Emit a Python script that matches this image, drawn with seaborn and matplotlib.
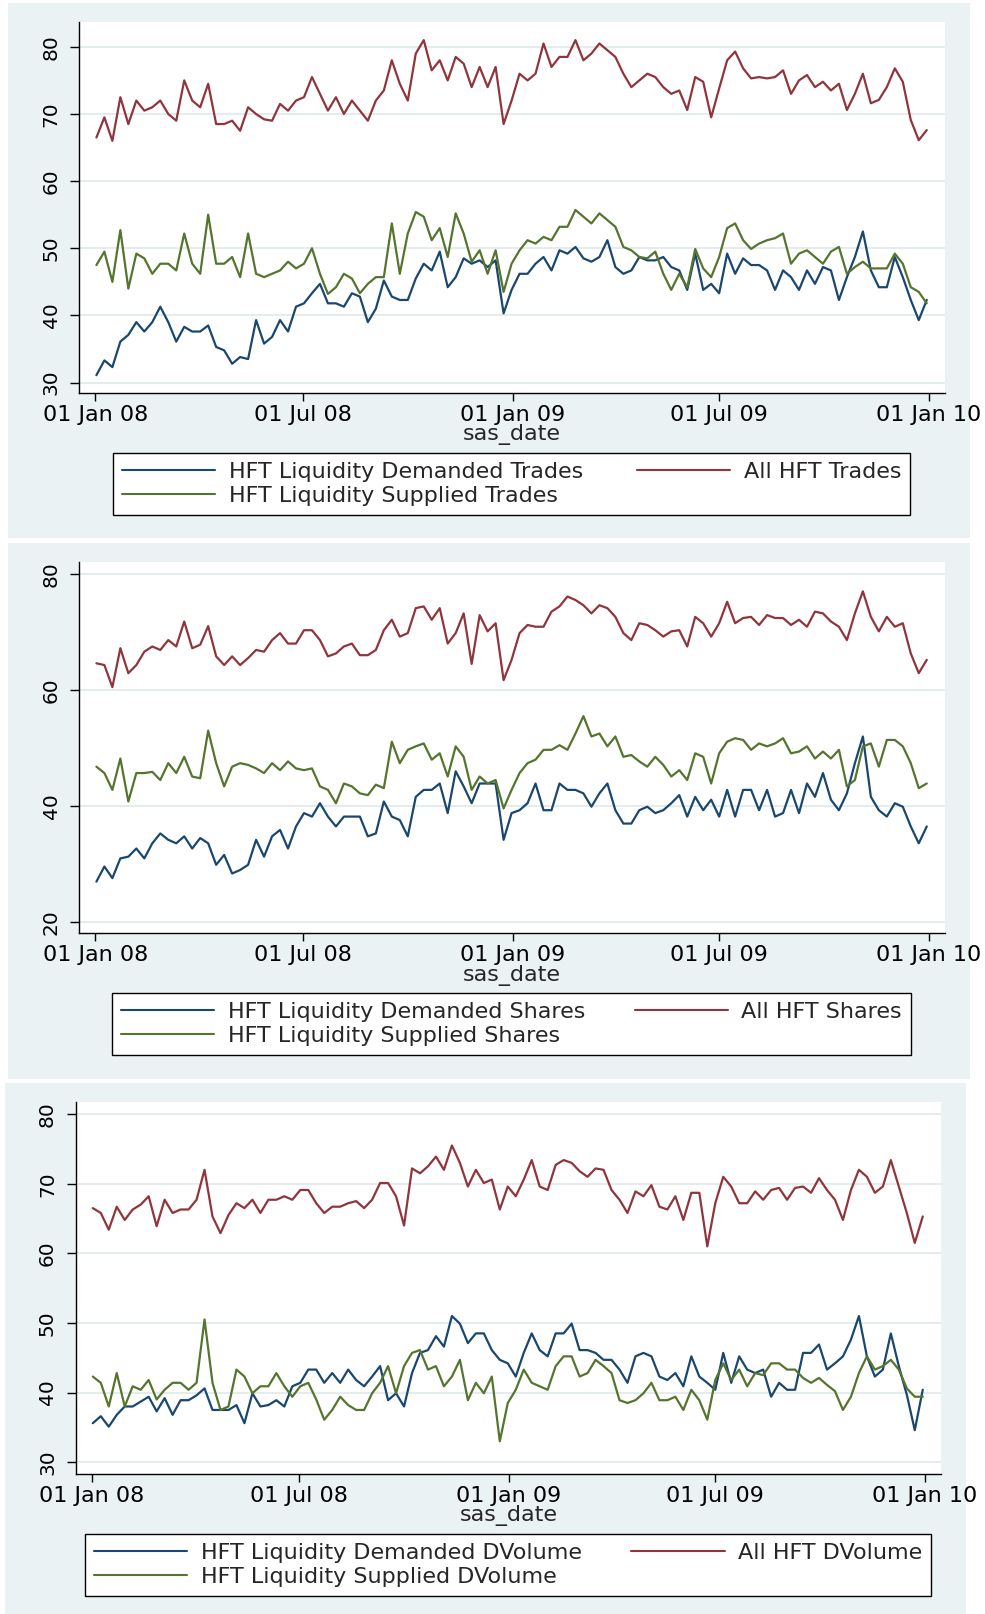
import numpy as np
import pandas as pd
import matplotlib
matplotlib.use("Agg")
import matplotlib.pyplot as plt
import matplotlib.dates as mdates
import seaborn as sns
from matplotlib.patches import Rectangle
from matplotlib.lines import Line2D

sns.set_style("white")
plt.rcParams["font.family"] = ["DejaVu Sans"]

# ---------------- data (weekly readings, 2008-01-02 .. 2009-12-30) ----------------
dates = pd.date_range("2008-01-02", periods=105, freq="7D")

trades_all = [66.5, 69.5, 66, 72.5, 68.5, 72, 70.5, 71, 72, 70,
              69, 75, 72, 71, 74.5, 68.5, 68.5, 69, 67.5, 71,
              70, 69.2, 69, 71.5, 70.5, 72, 72.5, 75.5, 73, 70.5,
              72.5, 70, 72, 70.5, 69, 72, 73.5, 78, 74.5, 72,
              79, 81, 76.5, 78, 75, 78.5, 77.5, 74, 77, 74,
              77, 68.5, 72, 76, 75, 76, 80.5, 77, 78.5, 78.5,
              81, 78, 79, 80.5, 79.5, 78.5, 76, 74, 75, 76,
              75.5, 74, 73, 73.5, 70.6, 75.5, 74.8, 69.5, 73.8, 78,
              79.3, 76.8, 75.3, 75.5, 75.3, 75.5, 76.5, 73, 75, 75.8,
              74, 74.8, 73.5, 74.5, 70.6, 73, 76, 71.6, 72.1, 74,
              76.8, 74.8, 69.1, 66.1, 67.6]
trades_supplied = [47.5, 49.5, 45, 52.7, 44, 49.2, 48.5, 46.2, 47.7, 47.7,
                   46.7, 52.2, 47.7, 46.2, 55, 47.7, 47.7, 48.7, 45.7, 52.2,
                   46.2, 45.7, 46.2, 46.7, 48, 47, 47.7, 50, 46.2, 43.2,
                   44.2, 46.2, 45.5, 43.3, 44.7, 45.7, 45.7, 53.7, 46.2, 52.2,
                   55.4, 54.7, 51.2, 53, 48.7, 55.2, 52.2, 48, 49.7, 46.2,
                   49.7, 43.5, 47.7, 49.7, 51.2, 50.7, 51.7, 51.2, 53.2, 53.2,
                   55.7, 54.7, 53.7, 55.2, 54.2, 53.2, 50.2, 49.7, 48.7, 48.5,
                   49.5, 46.2, 43.8, 46.2, 44.2, 49.9, 47, 45.7, 48.7, 53,
                   53.7, 51.2, 49.9, 50.7, 51.2, 51.5, 52.2, 47.7, 49.2, 49.7,
                   48.7, 47.7, 49.5, 50.2, 46.2, 47.2, 48, 47, 47, 47,
                   49.2, 47.7, 44.2, 43.5, 41.8]
trades_demanded = [31.1, 33.3, 32.3, 36.1, 37.1, 39.0, 37.6, 39.0, 41.3, 39.0,
                   36.1, 38.3, 37.6, 37.6, 38.5, 35.3, 34.8, 32.8, 33.8, 33.5,
                   39.3, 35.8, 36.8, 39.3, 37.6, 41.3, 41.8, 43.3, 44.7, 41.8,
                   41.8, 41.3, 43.3, 42.8, 39.0, 41.0, 45.2, 42.8, 42.3, 42.3,
                   45.5, 47.7, 46.7, 49.5, 44.2, 45.7, 48.5, 47.7, 48.2, 47.2,
                   48.2, 40.3, 43.8, 46.2, 46.2, 47.7, 48.7, 46.7, 49.7, 49.2,
                   50.2, 48.5, 48, 48.7, 51.2, 47.2, 46.2, 46.7, 48.7, 48.2,
                   48.2, 48.7, 47.2, 46.7, 43.8, 49.2, 43.8, 44.7, 43.3, 49.2,
                   46.2, 48.5, 47.5, 47.5, 46.7, 43.8, 46.7, 45.7, 43.8, 46.7,
                   44.7, 47.2, 46.7, 42.3, 45.7, 48.7, 52.5, 46.7, 44.2, 44.2,
                   48.7, 45.7, 42.3, 39.3, 42.3]

shares_all = [64.6, 64.3, 60.5, 67.2, 62.9, 64.3, 66.6, 67.5, 66.9, 68.6,
              67.5, 71.8, 67.2, 67.8, 71, 65.8, 64.3, 65.8, 64.3, 65.5,
              66.9, 66.6, 68.6, 69.8, 68.0, 68.0, 70.3, 70.3, 68.6, 65.8,
              66.3, 67.5, 68.0, 66.0, 66.0, 66.9, 70.3, 72.1, 69.2, 69.8,
              74.1, 74.4, 72.1, 74.1, 68.0, 69.8, 73.2, 64.5, 72.9, 70.1,
              71.5, 61.7, 65.2, 69.8, 71.2, 70.9, 70.9, 73.5, 74.4, 76.1,
              75.5, 74.6, 73.2, 74.6, 74.1, 72.6, 69.8, 68.6, 71.5, 71.2,
              70.3, 69.2, 70.1, 70.3, 67.5, 72.6, 71.5, 69.2, 71.5, 75.2,
              71.5, 72.4, 72.6, 71.2, 72.9, 72.4, 72.4, 71.2, 72.1, 70.9,
              73.5, 73.2, 71.8, 70.9, 68.6, 73.2, 77, 72.6, 70.1, 72.6,
              70.9, 71.5, 66.3, 62.9, 65.2]
shares_supplied = [46.8, 45.7, 42.8, 48.2, 40.8, 45.7, 45.7, 45.9, 44.5, 47.4,
                   45.7, 48.5, 45.1, 44.8, 53, 47.4, 43.4, 46.8, 47.4, 47.1,
                   46.5, 45.7, 47.4, 46.2, 47.7, 46.5, 46.2, 46.5, 43.4, 42.8,
                   40.5, 43.9, 43.4, 42.2, 41.9, 43.7, 43.1, 51.1, 47.4, 49.7,
                   50.3, 50.8, 48.0, 49.1, 45.1, 50.3, 48.5, 42.8, 45.1, 43.9,
                   44.5, 39.6, 42.8, 45.7, 47.4, 48.0, 49.7, 49.7, 50.5, 49.7,
                   52.5, 55.5, 52.0, 52.5, 50.3, 52.0, 48.5, 48.8, 47.7, 46.8,
                   48.5, 47.1, 45.1, 46.2, 44.5, 49.1, 48.5, 43.9, 49.1, 51.1,
                   51.7, 51.4, 49.7, 50.8, 50.3, 50.8, 51.7, 49.1, 49.4, 50.3,
                   48.2, 49.4, 48.2, 49.7, 43.4, 44.5, 50.3, 50.8, 46.8, 51.4,
                   51.4, 50.3, 47.4, 43.1, 43.9]
shares_demanded = [27.0, 29.6, 27.6, 31.0, 31.3, 32.7, 31.0, 33.6, 35.3, 34.2,
                   33.6, 34.8, 32.7, 34.5, 33.6, 29.9, 31.6, 28.4, 29.0, 29.9,
                   34.2, 31.3, 34.8, 35.9, 32.7, 36.5, 38.8, 38.2, 40.5, 38.2,
                   36.5, 38.2, 38.2, 38.2, 34.8, 35.3, 40.8, 38.2, 37.6, 34.8,
                   41.6, 42.8, 42.8, 43.9, 38.8, 46.0, 43.4, 40.5, 43.9, 43.9,
                   43.9, 34.2, 38.8, 39.3, 40.5, 43.9, 39.3, 39.3, 43.9, 42.8,
                   42.8, 42.2, 39.9, 42.2, 43.9, 39.3, 37.0, 37.0, 39.3, 39.9,
                   38.8, 39.3, 40.5, 41.9, 38.2, 41.6, 39.3, 41.1, 38.2, 42.8,
                   38.2, 42.8, 42.8, 39.3, 42.8, 38.2, 38.8, 42.8, 38.8, 43.9,
                   41.6, 45.7, 41.1, 39.3, 42.2, 47.4, 52.0, 41.6, 39.3, 38.2,
                   40.5, 39.9, 36.5, 33.6, 36.5]

dvol_all = [66.5, 65.8, 63.4, 66.7, 64.8, 66.3, 67.0, 68.2, 63.9, 67.7,
            65.8, 66.3, 66.3, 67.7, 72, 65.3, 62.9, 65.5, 67.2, 66.5,
            67.7, 65.8, 67.7, 67.7, 68.2, 67.7, 69.1, 69.1, 67.2, 65.8,
            66.7, 66.7, 67.2, 67.5, 66.5, 67.7, 70.1, 70.1, 68.2, 64,
            72.2, 71.5, 72.5, 73.9, 72.0, 75.5, 73.0, 69.6, 72.0, 70.1,
            70.6, 66.3, 69.6, 68.2, 70.6, 73.4, 69.6, 69.1, 72.7, 73.4,
            73.0, 71.8, 71.0, 72.2, 72.0, 69.1, 67.7, 65.8, 68.9, 68.2,
            69.8, 66.7, 66.3, 68.2, 64.8, 68.7, 68.7, 61, 67.2, 71.0,
            69.6, 67.2, 67.2, 68.9, 67.7, 69.1, 69.4, 67.7, 69.4, 69.6,
            68.7, 70.8, 69.1, 67.7, 64.8, 69.1, 72.0, 71.0, 68.7, 69.6,
            73.4, 69.6, 65.8, 61.5, 65.3]
dvol_supplied = [42.3, 41.4, 38.0, 42.8, 38.0, 40.9, 40.4, 41.8, 39.0, 40.4,
                 41.4, 41.4, 40.4, 41.4, 50.5, 41.4, 37.5, 38.0, 43.3, 42.3,
                 39.9, 40.9, 40.9, 42.8, 40.9, 39.4, 40.9, 41.4, 39.0, 36.1,
                 37.5, 39.4, 38.2, 37.5, 37.5, 39.9, 41.4, 43.8, 39.9, 43.8,
                 45.7, 46.1, 43.3, 43.8, 40.9, 42.3, 44.7, 38.9, 41.4, 39.9,
                 42.3, 33.0, 38.5, 40.4, 43.3, 41.4, 40.9, 40.4, 43.8, 45.2,
                 45.2, 42.3, 42.8, 44.7, 43.8, 42.8, 38.9, 38.5, 38.9, 39.9,
                 41.4, 38.9, 38.9, 39.4, 37.5, 40.4, 38.9, 36.1, 41.8, 44.2,
                 41.8, 43.3, 40.9, 42.8, 42.5, 44.2, 44.2, 43.3, 43.3, 42.1,
                 41.4, 42.1, 41.1, 40.2, 37.5, 39.4, 42.8, 45.2, 43.3, 43.8,
                 44.7, 43.3, 40.6, 39.4, 39.4]
dvol_demanded = [35.6, 36.6, 35.1, 36.8, 38.0, 38.0, 38.7, 39.4, 37.3, 39.2,
                 36.8, 38.9, 38.9, 39.6, 40.6, 37.5, 37.5, 37.5, 38.2, 35.6,
                 39.9, 38.0, 38.2, 38.9, 38.0, 40.9, 41.4, 43.3, 43.3, 41.4,
                 42.8, 41.4, 43.3, 41.8, 40.9, 42.3, 43.8, 38.9, 39.9, 38.0,
                 42.8, 45.7, 46.1, 48.1, 46.6, 51.0, 49.9, 47.1, 48.5, 48.5,
                 46.1, 44.7, 44.2, 42.3, 45.7, 48.5, 46.1, 45.2, 48.5, 48.5,
                 49.9, 46.1, 46.1, 45.7, 44.7, 44.7, 43.3, 41.4, 45.2, 45.7,
                 45.2, 42.3, 41.8, 42.8, 40.9, 45.2, 42.3, 41.4, 40.4, 45.7,
                 41.4, 45.2, 43.3, 42.8, 43.3, 39.4, 41.4, 40.4, 40.4, 45.7,
                 45.7, 46.9, 43.3, 44.2, 45.2, 47.6, 51.0, 45.2, 42.3, 43.3,
                 48.5, 43.8, 39.7, 34.6, 40.4]

tick_dates = ["2008-01-01", "2008-07-01", "2009-01-01", "2009-07-01", "2010-01-01"]
tick_labels = ["01 Jan 08", "01 Jul 08", "01 Jan 09", "01 Jul 09", "01 Jan 10"]

names_trades = ["HFT Liquidity Demanded Trades", "All HFT Trades", "HFT Liquidity Supplied Trades"]
names_shares = ["HFT Liquidity Demanded Shares", "All HFT Shares", "HFT Liquidity Supplied Shares"]
names_dvol = ["HFT Liquidity Demanded DVolume", "All HFT DVolume", "HFT Liquidity Supplied DVolume"]

NAVY, MAROON, GREEN = "#1a476f", "#90353b", "#55752f"
BG = "#eaf2f3"

# ---------------- figure ----------------
W, H = 985, 1614
fig = plt.figure(figsize=(W / 100, H / 100), dpi=100)
fig.patch.set_facecolor("white")


def fx(px):
    return px / W


def fy(py):
    return 1 - py / H


panels = [
    dict(bg=(8, 3, 970, 538), ax=(79.3, 22, 945, 393.3), yt=[30, 40, 50, 60, 70, 80],
         ylim=(28.4, 83.7), leg=(113, 453, 910, 515), names=names_trades,
         series=[trades_demanded, trades_all, trades_supplied]),
    dict(bg=(8, 543, 970, 1079), ax=(79.3, 561.7, 945, 933.3), yt=[20, 40, 60, 80],
         ylim=(18.1, 82.1), leg=(112, 993, 911, 1055), names=names_shares,
         series=[shares_demanded, shares_all, shares_supplied]),
    dict(bg=(5, 1083, 966, 1614), ax=(75.7, 1102.3, 941, 1474), yt=[30, 40, 50, 60, 70, 80],
         ylim=(28.3, 81.7), leg=(85, 1534, 931, 1596), names=names_dvol,
         series=[dvol_demanded, dvol_all, dvol_supplied]),
]

FS = 16
x_ticks = mdates.date2num(pd.to_datetime(tick_dates))

for p in panels:
    x0, y0, x1, y1 = p["bg"]
    fig.add_artist(Rectangle((fx(x0), fy(y1)), fx(x1 - x0), (y1 - y0) / H,
                             transform=fig.transFigure, facecolor=BG,
                             edgecolor="none", zorder=-5))
    l, t, r, b = p["ax"]
    ax = fig.add_axes([fx(l), fy(b), fx(r - l), (b - t) / H])
    ax.set_facecolor("white")

    names = p["names"]
    df = pd.DataFrame({
        "date": np.tile(dates.values, 3),
        "value": np.concatenate([np.asarray(s, dtype=float) for s in p["series"]]),
        "series": np.repeat(names, len(dates)),
    })
    pal = {names[0]: NAVY, names[1]: MAROON, names[2]: GREEN}
    sns.lineplot(data=df, x="date", y="value", hue="series", hue_order=names,
                 palette=pal, linewidth=1.6, legend=False, ax=ax,
                 estimator=None, errorbar=None)

    ax.set_xlim(x_ticks[0] - 14, x_ticks[-1] + 14)
    ax.set_ylim(*p["ylim"])
    ax.set_xticks(x_ticks)
    ax.set_xticklabels(tick_labels, fontsize=FS)
    ax.set_yticks(p["yt"])
    ax.set_yticklabels([str(v) for v in p["yt"]], rotation=90, va="center", fontsize=14.5)
    ax.tick_params(axis="x", bottom=True, direction="out", length=5.5, width=1,
                   pad=3, colors="black")
    ax.tick_params(axis="y", left=True, direction="out", length=6.5, width=1,
                   pad=7, colors="black")
    ax.yaxis.grid(True, color="#e2eaed", linewidth=1.3)
    ax.xaxis.grid(False)
    ax.set_axisbelow(True)
    for s in ["top", "right"]:
        ax.spines[s].set_visible(False)
    for s in ["left", "bottom"]:
        ax.spines[s].set_color("black")
        ax.spines[s].set_linewidth(1.0)
    ax.set_ylabel("")
    ax.set_xlabel("sas_date", fontsize=FS)
    ax.xaxis.set_label_coords(0.5, -0.084)

    handles = [Line2D([], [], color=NAVY, lw=1.5),
               Line2D([], [], color=GREEN, lw=1.5),
               Line2D([], [], color=MAROON, lw=1.5)]
    labels = [names[0], names[2], names[1]]
    lx0, ly0, lx1, ly1 = p["leg"]
    leg = fig.legend(handles, labels, ncol=2, loc="center",
                     bbox_to_anchor=(fx(lx0), fy(ly1), fx(lx1 - lx0), (ly1 - ly0) / H),
                     bbox_transform=fig.transFigure, mode="expand",
                     frameon=True, fancybox=False, edgecolor="black", framealpha=1,
                     fontsize=FS, handlelength=4.2, handletextpad=0.6,
                     labelspacing=0.2, borderpad=0.4, borderaxespad=0)
    leg.get_frame().set_linewidth(1.0)

fig.savefig("out.png", dpi=100, facecolor="white")
